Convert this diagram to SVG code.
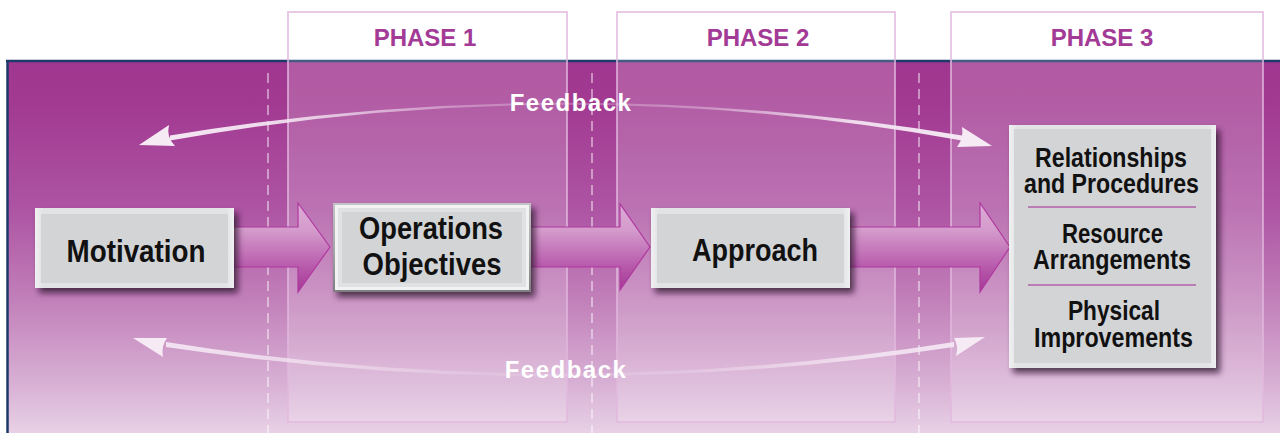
<svg xmlns="http://www.w3.org/2000/svg" width="1280" height="433" viewBox="0 0 1280 433">
  <style>
    .phase-box { fill: #ffffff; fill-opacity: 0.18; stroke: #e2b8de; stroke-opacity: 0.75; stroke-width: 2; }
    .phase-label { font-family: "Liberation Sans", Arial, sans-serif; font-weight: bold; font-size: 24px; fill: #a33a96; text-anchor: middle; }
    .dash { stroke: #ffffff; stroke-opacity: 0.45; stroke-width: 2; stroke-dasharray: 10 6; }
    .node-text { font-family: "Liberation Sans", Arial, sans-serif; font-weight: bold; fill: #111111; text-anchor: middle; }
    .big { font-size: 32px; }
    .small { font-size: 27px; }
    .fb-text { font-family: "Liberation Sans", Arial, sans-serif; font-weight: bold; font-size: 24px; letter-spacing: 1.5px; fill: #ffffff; text-anchor: middle; }
    .block-arrow { fill: url(#arrowGrad); stroke: #b0399f; stroke-width: 1.2; }
    .fb-head { fill: #f6eaf5; }
    .sep { stroke: #b262aa; stroke-width: 1.5; }
  </style>
  <defs>
    <linearGradient id="bgGrad" x1="0" y1="60" x2="0" y2="433" gradientUnits="userSpaceOnUse">
      <stop offset="0" stop-color="#a0368f"/>
      <stop offset="0.12" stop-color="#a23a92"/>
      <stop offset="0.4" stop-color="#ad54a3"/>
      <stop offset="0.65" stop-color="#c281ba"/>
      <stop offset="0.88" stop-color="#d9b3d6"/>
      <stop offset="1" stop-color="#e8d1e6"/>
    </linearGradient>
    <linearGradient id="arrowGrad" x1="0" y1="0" x2="0" y2="1">
      <stop offset="0" stop-color="#dcaad6"/>
      <stop offset="0.3" stop-color="#d49ccc"/>
      <stop offset="0.72" stop-color="#b85aac"/>
      <stop offset="1" stop-color="#a43896"/>
    </linearGradient>
    <linearGradient id="fbTopGrad" x1="140" y1="0" x2="992" y2="0" gradientUnits="userSpaceOnUse">
      <stop offset="0" stop-color="#f6eaf5" stop-opacity="1"/>
      <stop offset="0.16" stop-color="#f6eaf5" stop-opacity="0.9"/>
      <stop offset="0.38" stop-color="#f6eaf5" stop-opacity="0.35"/>
      <stop offset="0.5" stop-color="#f6eaf5" stop-opacity="0.25"/>
      <stop offset="0.66" stop-color="#f6eaf5" stop-opacity="0.35"/>
      <stop offset="0.84" stop-color="#f6eaf5" stop-opacity="0.9"/>
      <stop offset="1" stop-color="#f6eaf5" stop-opacity="1"/>
    </linearGradient>
    <linearGradient id="fbBotGrad" x1="133" y1="0" x2="985" y2="0" gradientUnits="userSpaceOnUse">
      <stop offset="0" stop-color="#f6eaf5" stop-opacity="0.95"/>
      <stop offset="0.14" stop-color="#f6eaf5" stop-opacity="0.8"/>
      <stop offset="0.4" stop-color="#f6eaf5" stop-opacity="0.2"/>
      <stop offset="0.5" stop-color="#f6eaf5" stop-opacity="0.15"/>
      <stop offset="0.65" stop-color="#f6eaf5" stop-opacity="0.25"/>
      <stop offset="0.86" stop-color="#f6eaf5" stop-opacity="0.8"/>
      <stop offset="1" stop-color="#f6eaf5" stop-opacity="0.95"/>
    </linearGradient>
    <linearGradient id="metal" x1="0" y1="0" x2="0" y2="1">
      <stop offset="0" stop-color="#c4c4c6"/>
      <stop offset="0.5" stop-color="#a8a8aa"/>
      <stop offset="1" stop-color="#7e7e80"/>
    </linearGradient>
    <linearGradient id="bevel" x1="0" y1="0" x2="1" y2="0">
      <stop offset="0" stop-color="#f0f0f2"/>
      <stop offset="0.04" stop-color="#e2e3e5"/>
      <stop offset="0.96" stop-color="#e2e3e5"/>
      <stop offset="1" stop-color="#f0f0f2"/>
    </linearGradient>
    <filter id="shadow" x="-10%" y="-10%" width="125%" height="130%">
      <feDropShadow dx="4" dy="5" stdDeviation="3" flood-color="#2a0a28" flood-opacity="0.75"/>
    </filter>
  </defs>

  <!-- background panel -->
  <g id="background">
    <rect x="7" y="60" width="1273" height="373" fill="url(#bgGrad)"/>
    <line x1="6" y1="61" x2="1280" y2="61" stroke="#1d3a6a" stroke-width="2.5"/>
    <line x1="7.5" y1="60" x2="7.5" y2="433" stroke="#1d3a6a" stroke-width="2.5"/>
  </g>

  <!-- phase columns -->
  <g id="phases">
    <rect class="phase-box" x="288" y="12" width="279" height="410"/>
    <rect class="phase-box" x="617" y="12" width="278" height="410"/>
    <rect class="phase-box" x="951" y="12" width="312" height="410"/>
    <text class="phase-label" x="425" y="46">PHASE 1</text>
    <text class="phase-label" x="758" y="46">PHASE 2</text>
    <text class="phase-label" x="1102" y="46">PHASE 3</text>
    <line class="dash" x1="268" y1="73" x2="268" y2="433"/>
    <line class="dash" x1="592" y1="73" x2="592" y2="433"/>
    <line class="dash" x1="919" y1="73" x2="919" y2="433"/>
  </g>

  <!-- connectors -->
  <g id="connectors">
    <path id="arrow-motivation-objectives" class="block-arrow" d="M230,227 L298,227 L298,203 L330,247 L298,292 L298,267 L230,267 Z"/>
    <path id="arrow-objectives-approach" class="block-arrow" d="M527,227 L620,227 L620,204 L650,247 L620,290 L620,267 L527,267 Z"/>
    <path id="arrow-approach-phase3" class="block-arrow" d="M846,227 L980,227 L980,203 L1010,247 L980,292 L980,267 L846,267 Z"/>

    <g id="feedback-top">
      <path d="M170,135.5 Q566,70 962,135.5 L962,140.5 Q566,69 170,140.5 Z" fill="url(#fbTopGrad)"/>
      <path class="fb-head" d="M139,145 L169,125 Q166,137 175,146 Z"/>
      <path class="fb-head" d="M992,146 L962,127 Q964,138 957,147 Z"/>
      <text class="fb-text" x="571" y="111">Feedback</text>
    </g>
    <g id="feedback-bottom">
      <path d="M166,342 Q560,405 954,342 L954,347 Q560,406 166,347 Z" fill="url(#fbBotGrad)"/>
      <path class="fb-head" d="M133,338 L167,338 Q161,346 163,357 Z"/>
      <path class="fb-head" d="M985,337 L954,338 Q959,346 956,356 Z"/>
      <text class="fb-text" x="566" y="378">Feedback</text>
    </g>
  </g>

  <!-- nodes -->
  <g id="node-motivation">
    <g filter="url(#shadow)">
      <rect x="35" y="208" width="199" height="80" fill="url(#bevel)"/>
    </g>
    <rect x="41" y="214" width="187" height="69" fill="#d3d4d6"/>
    <text class="node-text big" x="136" y="262" textLength="139" lengthAdjust="spacingAndGlyphs">Motivation</text>
  </g>

  <g id="node-operations-objectives">
    <g filter="url(#shadow)">
      <rect x="333" y="203" width="198" height="89" fill="url(#metal)"/>
    </g>
    <rect x="335" y="205" width="194" height="85" fill="#f2f2f3"/>
    <rect x="338" y="208" width="188" height="79" fill="#e0e1e3"/>
    <rect x="342" y="212" width="180" height="71" fill="#d3d4d6"/>
    <text class="node-text big" x="431" y="239" textLength="144" lengthAdjust="spacingAndGlyphs">Operations</text>
    <text class="node-text big" x="432" y="275" textLength="139" lengthAdjust="spacingAndGlyphs">Objectives</text>
  </g>

  <g id="node-approach">
    <g filter="url(#shadow)">
      <rect x="651" y="208" width="199" height="80" fill="url(#bevel)"/>
    </g>
    <rect x="657" y="214" width="187" height="69" fill="#d3d4d6"/>
    <text class="node-text big" x="755" y="261" textLength="126" lengthAdjust="spacingAndGlyphs">Approach</text>
  </g>

  <g id="node-phase3-outcomes">
    <g filter="url(#shadow)">
      <rect x="1009" y="125" width="207" height="243" fill="url(#bevel)"/>
    </g>
    <rect x="1014" y="129" width="197" height="234" fill="#d3d4d6"/>
    <text class="node-text small" x="1111" y="167" textLength="152" lengthAdjust="spacingAndGlyphs">Relationships</text>
    <text class="node-text small" x="1111.5" y="193" textLength="175" lengthAdjust="spacingAndGlyphs">and Procedures</text>
    <line class="sep" x1="1028" y1="207" x2="1196" y2="207"/>
    <text class="node-text small" x="1112.5" y="243" textLength="101" lengthAdjust="spacingAndGlyphs">Resource</text>
    <text class="node-text small" x="1112" y="269" textLength="158" lengthAdjust="spacingAndGlyphs">Arrangements</text>
    <line class="sep" x1="1028" y1="285" x2="1196" y2="285"/>
    <text class="node-text small" x="1114" y="320" textLength="92" lengthAdjust="spacingAndGlyphs">Physical</text>
    <text class="node-text small" x="1113.5" y="347" textLength="159" lengthAdjust="spacingAndGlyphs">Improvements</text>
  </g>
</svg>
